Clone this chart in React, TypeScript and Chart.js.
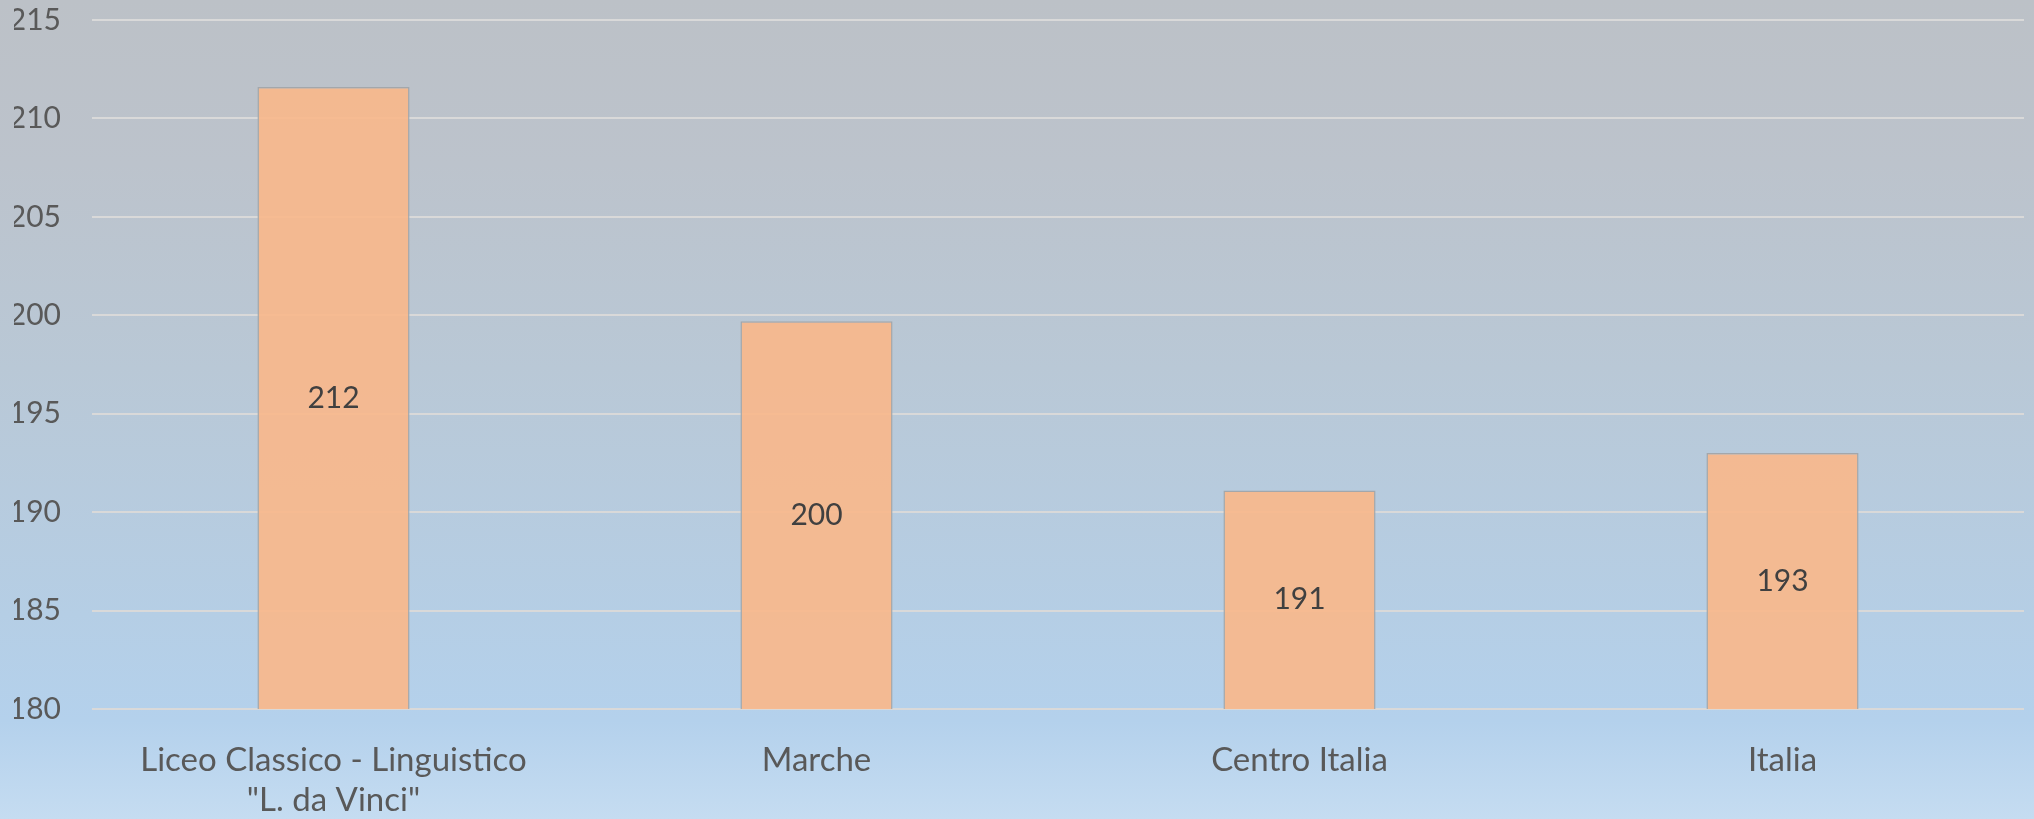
import React, { useEffect, useRef } from "react";
import { Chart, registerables } from "chart.js";

Chart.register(...registerables);

const categories: (string | string[])[] = [
  ["Liceo Classico - Linguistico", '"L. da Vinci"'],
  "Marche",
  "Centro Italia",
  "Italia",
];
const values: number[] = [211.6, 199.7, 191.1, 193.0];
const yMin = 180;
const yMax = 215;
const yStep = 5;

const FONT = "Lato, 'Open Sans', sans-serif";

const valueLabels = {
  id: "valueLabels",
  afterDatasetsDraw(chart: any) {
    const ctx = chart.ctx;
    const yScale = chart.scales.y;
    const xScale = chart.scales.x;
    const data = chart.data.datasets[0].data as number[];
    ctx.save();
    ctx.font = "30px Lato, sans-serif";
    ctx.fillStyle = "#404040";
    ctx.textAlign = "center";
    ctx.textBaseline = "middle";
    for (let i = 0; i < data.length; i++) {
      const v = data[i];
      const x = xScale.getPixelForValue(i);
      const top = yScale.getPixelForValue(v);
      const base = yScale.getPixelForValue(yMin);
      ctx.fillText(String(Math.round(v)), x, (top + base) / 2);
    }
    ctx.restore();
  },
};

export default function App() {
  const ref = useRef<HTMLCanvasElement | null>(null);
  useEffect(() => {
    document.body.style.margin = "0";
    if (!ref.current) return;
    const chart = new Chart(ref.current, {
      type: "bar",
      data: {
        labels: categories as any,
        datasets: [
          {
            data: values,
            backgroundColor: "rgba(248,184,140,0.93)",
            borderColor: "#A3A7AB",
            borderWidth: 1.5,
            barPercentage: 0.315,
            categoryPercentage: 1,
          },
        ],
      },
      options: {
        animation: false,
        responsive: false,
        maintainAspectRatio: false,
        layout: { padding: { left: 14, right: 10, top: 20, bottom: 0 } },
        plugins: {
          legend: { display: false },
          tooltip: { enabled: false },
          title: { display: false },
        },
        scales: {
          x: {
            grid: { display: false, drawTicks: false },
            border: { display: false },
            ticks: {
              autoSkip: false,
              maxRotation: 0,
              minRotation: 0,
              padding: 31,
              color: "#595959",
              font: { family: FONT, size: 33, lineHeight: 1.212 },
            },
            afterFit: (s: any) => {
              s.height = 110;
            },
          },
          y: {
            min: yMin,
            max: yMax,
            grid: { color: "#D9D9D9", lineWidth: 2, drawTicks: false },
            border: { display: false },
            ticks: {
              stepSize: yStep,
              padding: 31,
              color: "#595959",
              font: { family: FONT, size: 30 },
            },
            afterFit: (s: any) => {
              s.width = 78;
              s.paddingTop = 0;
              s.paddingBottom = 0;
            },
          },
        },
      },
      plugins: [valueLabels],
    });
    return () => chart.destroy();
  }, []);
  return (
    <div
      style={{
        position: "absolute",
        left: 0,
        top: 0,
        width: 2034,
        height: 819,
        background:
          "linear-gradient(to bottom, #BCC1C7 0%, #BCC3CC 20%, #B9C8D6 45%, #B5CEE5 75%, #B4D1EC 88%, #C5DCF1 100%)",
      }}
    >
      <canvas ref={ref} width={2034} height={819} style={{ display: "block" }} />
    </div>
  );
}
